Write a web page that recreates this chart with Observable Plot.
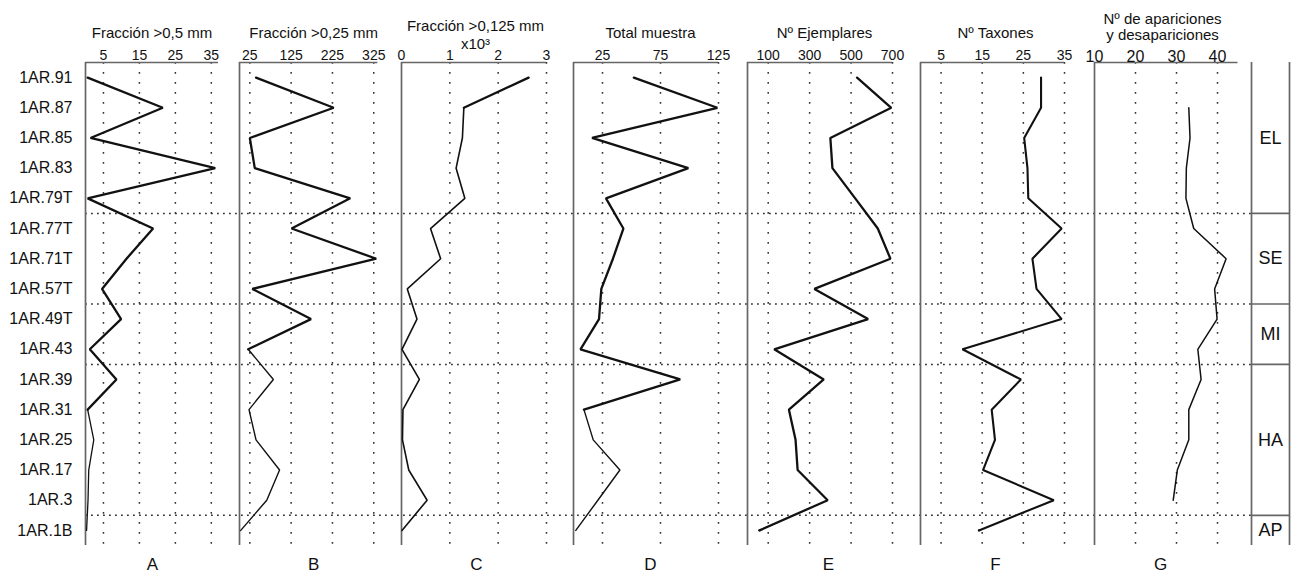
<!DOCTYPE html>
<html><head><meta charset="utf-8">
<script src="https://cdn.jsdelivr.net/npm/d3@7"></script>
<script src="https://cdn.jsdelivr.net/npm/@observablehq/plot@0.6"></script>
<style>
body{margin:0;background:#fff;}
#chart{position:relative;width:1292px;height:573px;font-family:"Liberation Sans",Arial,sans-serif;}
#chart svg{position:absolute;left:0;top:0;}
</style></head><body><div id="chart"></div>
<script>
// ---- data ----
const samples = ["1AR.91","1AR.87","1AR.85","1AR.83","1AR.79T","1AR.77T","1AR.71T","1AR.57T","1AR.49T","1AR.43","1AR.39","1AR.31","1AR.25","1AR.17","1AR.3","1AR.1B"];
const fraccion05   = [0.6, 21.5, 1.4, 36.1, 0.6, 18.8, 11.4, 4.6, 9.9, 1.2, 8.6, 0.6, 2.3, 0.9, 0.7, 0.3];
const fraccion025  = [40, 228, 25, 37, 268, 126, 331, 31, 173, 21, 82, 23, 40, 97, 66, 3];
const fraccion0125 = [2.63, 1.29, 1.26, 1.13, 1.31, 0.60, 0.81, 0.12, 0.32, 0.01, 0.37, 0.03, 0.02, 0.15, 0.53, 0.01];
const totalMuestra = [52, 124, 16, 99, 28, 43, 34, 24, 22, 6, 92, 9, 17, 40, 21, 2];
const ejemplares   = [529, 694, 400, 410, 520, 629, 690, 323, 582, 129, 368, 200, 232, 242, 387, 58];
const taxones      = [29.3, 29.3, 25.2, 26.0, 26.2, 34.3, 27.2, 28.2, 34.3, 10.2, 24.4, 17.3, 18.1, 15.2, 32.4, 14.2];
const apariciones  = [null, 33.0, 33.3, 32.4, 32.3, 34.2, 42.1, 39.3, 39.9, 35.2, 36.0, 33.0, 33.0, 30.2, 29.2, null];

const titles = [["Fracción >0,5 mm"],["Fracción >0,25 mm"],["Fracción >0,125 mm","x10³"],["Total muestra"],["Nº Ejemplares"],["Nº Taxones"],["Nº de apariciones","y desapariciones"]];
const letters = ["A","B","C","D","E","F","G"];
const ticksA = [5,15,25,35], ticksB = [25,125,225,325], ticksC = [0,1,2,3], ticksD = [25,75,125], ticksE = [100,300,500,700], ticksF = [5,15,25,35], ticksG = [10,20,30,40];
const domains = [[0,37],[0,335],[0,3],[0,125],[0,700],[0,35],[10,45]];

const zoneNames = ["EL","SE","MI","HA","AP"];
const zoneFirst = ["1AR.91","1AR.77T","1AR.49T","1AR.39","1AR.1B"];

// ---- layout / style ----
const W = 1292, H = 573, MT = 62, MB = 28;
const font = '"Liberation Sans", Arial, sans-serif';
const ink = "#111";
const panels = [
  {values: fraccion05,   ticks: ticksA, L: 85,   R: 218,   split: 11, thick: 2.3, thin: 1.3, tdx: 0,   ldx: 0.5, tick: 14},
  {values: fraccion025,  ticks: ticksB, L: 239,  R: 377.4, split: 9,  thick: 2.3, thin: 1.4, tdx: 5,   ldx: 5,   tick: 14},
  {values: fraccion0125, ticks: ticksC, L: 401,  R: 546,   split: 1,  thick: 2.3, thin: 1.6, tdx: 1.5, ldx: 2.5, tick: 14},
  {values: totalMuestra, ticks: ticksD, L: 573,  R: 718,   split: 11, thick: 2.3, thin: 1.4, tdx: 4.5, ldx: 4.5, tick: 14},
  {values: ejemplares,   ticks: ticksE, L: 747,  R: 892,   split: 15, thick: 2.3, thin: 2.3, tdx: 4.5, ldx: 8.5, tick: 14},
  {values: taxones,      ticks: ticksF, L: 920,  R: 1064,  split: 15, thick: 2.1, thin: 2.1, tdx: 3,   ldx: 3,   tick: 14},
  {values: apariciones,  ticks: ticksG, L: 1094, R: 1237.5,split: 0,  thick: 1.5, thin: 1.5, tdx: -3.7,ldx: -5.7,tick: 16}
];
const yScale = {domain: [-0.5, samples.length - 0.5], reverse: true, axis: null};
const baseStyle = {background: "transparent", overflow: "visible", fontFamily: font, color: ink};
const chart = document.getElementById("chart");

// boundaries between zones
const zoneStart = zoneFirst.map(s => samples.indexOf(s));
const zoneEnd = zoneStart.map((s, k) => k + 1 < zoneStart.length ? zoneStart[k + 1] - 1 : samples.length - 1);
const boundaries = zoneStart.slice(1).map(s => s - 0.5);

// background: zone dotted lines and sample labels
chart.appendChild(Plot.plot({
  width: W, height: H, marginTop: MT, marginBottom: MB, marginLeft: 85, marginRight: 41,
  y: yScale, style: baseStyle,
  marks: [
    Plot.ruleY(boundaries, {stroke: "#333", strokeWidth: 1.5, strokeDasharray: "1.8,4.2"}),
    Plot.axisY({ticks: samples.map((s, i) => i), tickFormat: i => samples[i], tickSize: 0, tickPadding: 13, fontSize: 16, label: null})
  ]
}));

// panels
panels.forEach((p, k) => {
  const dom = domains[k];
  const data = samples.map((s, i) => ({i, v: p.values[i]}));
  const t = titles[k];
  const tt = (s, dy) => Plot.text([s], {text: d => d, frameAnchor: "top", dx: p.tdx, dy, lineAnchor: "bottom", fontSize: 15, fill: ink});
  const titleMarks = t.length === 1 ? [tt(t[0], -25)]
    : (k === 2 ? [tt(t[0], -32), tt(t[1], -14)] : [tt(t[0], -39), tt(t[1], -23)]);
  chart.appendChild(Plot.plot({
    width: W, height: H, marginTop: MT, marginBottom: MB, marginLeft: p.L, marginRight: W - p.R,
    x: {domain: dom, axis: null}, y: yScale, style: baseStyle,
    marks: [
      Plot.ruleX(p.ticks.filter(v => v > dom[0]), {stroke: "#333", strokeWidth: 1.5, strokeDasharray: "1.8,8.2"}),
      Plot.ruleX([dom[0]], {stroke: "#666", strokeWidth: 1.7}),
      Plot.ruleY([{y: -0.5, x1: dom[0], x2: dom[1]}], {y: "y", x1: "x1", x2: "x2", stroke: "#666", strokeWidth: 1.7}),
      Plot.line(data.filter(d => d.i <= p.split), {x: "v", y: "i", stroke: ink, strokeWidth: p.thick, strokeLinejoin: "miter"}),
      Plot.line(data.filter(d => d.i >= p.split), {x: "v", y: "i", stroke: ink, strokeWidth: p.thin, strokeLinejoin: "miter"}),
      Plot.axisX({anchor: "top", ticks: p.ticks, tickFormat: d => String(d), tickSize: 0, tickPadding: k === 6 ? 1 : 3, fontSize: p.tick, label: null}),
      ...titleMarks,
      Plot.text([letters[k]], {text: d => d, frameAnchor: "bottom", dx: p.ldx, dy: 24, lineAnchor: "bottom", fontSize: 17, fill: ink})
    ]
  }));
});

// zone column
const zones = zoneNames.map((z, k) => ({z, mid: (zoneStart[k] + zoneEnd[k]) / 2}));
chart.appendChild(Plot.plot({
  width: W, height: H, marginTop: MT, marginBottom: MB, marginLeft: 1251, marginRight: 3,
  x: {domain: [0, 1], axis: null}, y: yScale, style: baseStyle,
  marks: [
    Plot.ruleX([0, 1], {stroke: "#666", strokeWidth: 1.7}),
    Plot.ruleY(boundaries.map(b => ({y: b, x1: 0, x2: 1})), {y: "y", x1: "x1", x2: "x2", stroke: "#666", strokeWidth: 1.7}),
    Plot.text(zones, {x: 0.5, y: "mid", text: "z", fontSize: 18, fill: ink})
  ]
}));
</script></body></html>
